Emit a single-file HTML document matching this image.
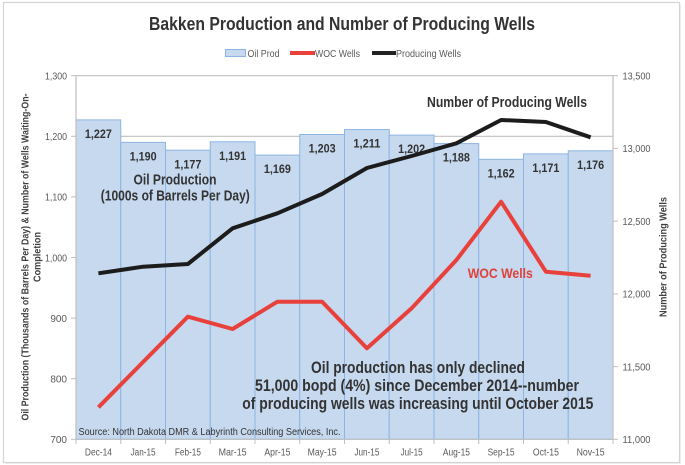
<!DOCTYPE html>
<html>
<head>
<meta charset="utf-8">
<style>
  html, body { margin:0; padding:0; background:#ffffff; }
  svg { display:block; }
  text { font-family: "Liberation Sans", sans-serif; }
</style>
</head>
<body>
<svg width="685" height="465" viewBox="0 0 685 465" xmlns="http://www.w3.org/2000/svg">
  <rect x="0" y="0" width="685" height="465" fill="#ffffff"/>
  <!-- frame -->
  <rect x="3.5" y="2.5" width="676" height="460" fill="#ffffff" stroke="#d4d4d4" stroke-width="1.2"/>
  <line x1="680.5" y1="4" x2="680.5" y2="464" stroke="#ececec" stroke-width="1"/>
  <line x1="5" y1="463.5" x2="681" y2="463.5" stroke="#ececec" stroke-width="1"/>

  <!-- title -->
  <text x="342" y="30" font-size="18" font-weight="bold" fill="#333333" text-anchor="middle" textLength="386" lengthAdjust="spacingAndGlyphs">Bakken Production and Number of Producing Wells</text>

  <!-- legend -->
  <rect x="225.5" y="49.5" width="20" height="7" fill="#c6d9ef" stroke="#8db4e2" stroke-width="1"/>
  <text x="247.5" y="57" font-size="10" fill="#595959" textLength="32" lengthAdjust="spacingAndGlyphs">Oil Prod</text>
  <line x1="290" y1="53" x2="315" y2="53" stroke="#e8413c" stroke-width="4"/>
  <text x="315" y="57" font-size="10" fill="#595959" textLength="45" lengthAdjust="spacingAndGlyphs">WOC Wells</text>
  <line x1="372" y1="53" x2="396" y2="53" stroke="#222222" stroke-width="4"/>
  <text x="396" y="57" font-size="10" fill="#595959" textLength="65" lengthAdjust="spacingAndGlyphs">Producing Wells</text>

  <!-- gridlines -->
  <line x1="76" y1="75.7" x2="613" y2="75.7" stroke="#c0c0c0" stroke-width="1.2"/>
  <line x1="76" y1="136.3" x2="613" y2="136.3" stroke="#c0c0c0" stroke-width="1.2"/>

  <!-- bars -->
  <g fill="#c6d9ef" stroke="#8db4e2" stroke-width="1">
    <rect x="76" y="119.9" width="44.75" height="319.4"/>
    <rect x="120.75" y="142.4" width="44.75" height="296.9"/>
    <rect x="165.5" y="150.2" width="44.75" height="289.1"/>
    <rect x="210.25" y="141.8" width="44.75" height="297.5"/>
    <rect x="255" y="155.1" width="44.75" height="284.2"/>
    <rect x="299.75" y="134.5" width="44.75" height="304.8"/>
    <rect x="344.5" y="129.6" width="44.75" height="309.7"/>
    <rect x="389.25" y="135.1" width="44.75" height="304.2"/>
    <rect x="434" y="143.6" width="44.75" height="295.7"/>
    <rect x="478.75" y="159.3" width="44.75" height="280"/>
    <rect x="523.5" y="153.9" width="44.75" height="285.4"/>
    <rect x="568.25" y="150.8" width="44.75" height="288.5"/>
  </g>

  <!-- bar labels -->
  <g font-size="12" font-weight="bold" fill="#333333" text-anchor="middle">
    <text x="98.4" y="138" textLength="27" lengthAdjust="spacingAndGlyphs">1,227</text>
    <text x="143.1" y="160.5" textLength="27" lengthAdjust="spacingAndGlyphs">1,190</text>
    <text x="187.9" y="168.3" textLength="27" lengthAdjust="spacingAndGlyphs">1,177</text>
    <text x="232.6" y="159.9" textLength="27" lengthAdjust="spacingAndGlyphs">1,191</text>
    <text x="277.4" y="173.2" textLength="27" lengthAdjust="spacingAndGlyphs">1,169</text>
    <text x="322.1" y="152.6" textLength="27" lengthAdjust="spacingAndGlyphs">1,203</text>
    <text x="366.9" y="147.7" textLength="27" lengthAdjust="spacingAndGlyphs">1,211</text>
    <text x="411.6" y="153.2" textLength="27" lengthAdjust="spacingAndGlyphs">1,202</text>
    <text x="456.4" y="161.7" textLength="27" lengthAdjust="spacingAndGlyphs">1,188</text>
    <text x="501.1" y="177.4" textLength="27" lengthAdjust="spacingAndGlyphs">1,162</text>
    <text x="545.9" y="172" textLength="27" lengthAdjust="spacingAndGlyphs">1,171</text>
    <text x="590.6" y="168.9" textLength="27" lengthAdjust="spacingAndGlyphs">1,176</text>
  </g>

  <!-- axes -->
  <line x1="76" y1="75.7" x2="76" y2="439.3" stroke="#bfbfbf" stroke-width="1.2"/>
  <line x1="613" y1="75.7" x2="613" y2="439.3" stroke="#bfbfbf" stroke-width="1.2"/>
  <line x1="76" y1="439.3" x2="613" y2="439.3" stroke="#bfbfbf" stroke-width="1.2"/>
  <g stroke="#bfbfbf" stroke-width="1">
    <line x1="71" y1="75.7" x2="76" y2="75.7"/>
    <line x1="71" y1="136.3" x2="76" y2="136.3"/>
    <line x1="71" y1="196.9" x2="76" y2="196.9"/>
    <line x1="71" y1="257.5" x2="76" y2="257.5"/>
    <line x1="71" y1="318.1" x2="76" y2="318.1"/>
    <line x1="71" y1="378.7" x2="76" y2="378.7"/>
    <line x1="71" y1="439.3" x2="76" y2="439.3"/>
    <line x1="613" y1="75.7" x2="618" y2="75.7"/>
    <line x1="613" y1="148.4" x2="618" y2="148.4"/>
    <line x1="613" y1="221.1" x2="618" y2="221.1"/>
    <line x1="613" y1="293.9" x2="618" y2="293.9"/>
    <line x1="613" y1="366.6" x2="618" y2="366.6"/>
    <line x1="613" y1="439.3" x2="618" y2="439.3"/>
    <line x1="120.75" y1="439.3" x2="120.75" y2="444"/>
    <line x1="165.5" y1="439.3" x2="165.5" y2="444"/>
    <line x1="210.25" y1="439.3" x2="210.25" y2="444"/>
    <line x1="255" y1="439.3" x2="255" y2="444"/>
    <line x1="299.75" y1="439.3" x2="299.75" y2="444"/>
    <line x1="344.5" y1="439.3" x2="344.5" y2="444"/>
    <line x1="389.25" y1="439.3" x2="389.25" y2="444"/>
    <line x1="434" y1="439.3" x2="434" y2="444"/>
    <line x1="478.75" y1="439.3" x2="478.75" y2="444"/>
    <line x1="523.5" y1="439.3" x2="523.5" y2="444"/>
    <line x1="568.25" y1="439.3" x2="568.25" y2="444"/>
    <line x1="76" y1="439.3" x2="76" y2="444"/>
    <line x1="613" y1="439.3" x2="613" y2="444"/>
  </g>

  <!-- left tick labels -->
  <g font-size="10" fill="#595959" text-anchor="end">
    <text x="67" y="79.5" textLength="22" lengthAdjust="spacingAndGlyphs">1,300</text>
    <text x="67" y="140.1" textLength="22" lengthAdjust="spacingAndGlyphs">1,200</text>
    <text x="67" y="200.7" textLength="22" lengthAdjust="spacingAndGlyphs">1,100</text>
    <text x="67" y="261.3" textLength="22" lengthAdjust="spacingAndGlyphs">1,000</text>
    <text x="67" y="321.9">900</text>
    <text x="67" y="382.5">800</text>
    <text x="67" y="443.1">700</text>
  </g>
  <!-- right tick labels -->
  <g font-size="10" fill="#595959" text-anchor="start">
    <text x="622.5" y="79.5" textLength="28" lengthAdjust="spacingAndGlyphs">13,500</text>
    <text x="622.5" y="152.2" textLength="28" lengthAdjust="spacingAndGlyphs">13,000</text>
    <text x="622.5" y="224.9" textLength="28" lengthAdjust="spacingAndGlyphs">12,500</text>
    <text x="622.5" y="297.7" textLength="28" lengthAdjust="spacingAndGlyphs">12,000</text>
    <text x="622.5" y="370.4" textLength="28" lengthAdjust="spacingAndGlyphs">11,500</text>
    <text x="622.5" y="443.1" textLength="28" lengthAdjust="spacingAndGlyphs">11,000</text>
  </g>

  <!-- x labels -->
  <g font-size="10" fill="#595959" text-anchor="middle">
    <text x="98.4" y="455.5" textLength="27" lengthAdjust="spacingAndGlyphs">Dec-14</text>
    <text x="143.1" y="455.5" textLength="25" lengthAdjust="spacingAndGlyphs">Jan-15</text>
    <text x="187.9" y="455.5" textLength="26" lengthAdjust="spacingAndGlyphs">Feb-15</text>
    <text x="232.6" y="455.5" textLength="28" lengthAdjust="spacingAndGlyphs">Mar-15</text>
    <text x="277.4" y="455.5" textLength="26" lengthAdjust="spacingAndGlyphs">Apr-15</text>
    <text x="322.1" y="455.5" textLength="29" lengthAdjust="spacingAndGlyphs">May-15</text>
    <text x="366.9" y="455.5" textLength="25" lengthAdjust="spacingAndGlyphs">Jun-15</text>
    <text x="411.6" y="455.5" textLength="22" lengthAdjust="spacingAndGlyphs">Jul-15</text>
    <text x="456.4" y="455.5" textLength="27" lengthAdjust="spacingAndGlyphs">Aug-15</text>
    <text x="501.1" y="455.5" textLength="27" lengthAdjust="spacingAndGlyphs">Sep-15</text>
    <text x="545.9" y="455.5" textLength="26" lengthAdjust="spacingAndGlyphs">Oct-15</text>
    <text x="590.6" y="455.5" textLength="28" lengthAdjust="spacingAndGlyphs">Nov-15</text>
  </g>

  <!-- producing wells line -->
  <polyline fill="none" stroke="#1c1c1c" stroke-width="4" stroke-linejoin="round" stroke-linecap="butt"
    points="98.4,273.3 143.1,266.7 187.9,264 232.6,228.3 277.4,213.3 322.1,194 366.9,168 411.6,156 456.4,143.3 501.1,120 545.9,122 590.6,137.3"/>
  <!-- WOC wells line -->
  <polyline fill="none" stroke="#e8413c" stroke-width="4" stroke-linejoin="round" stroke-linecap="butt"
    points="98.4,407.3 143.1,362 187.9,316.7 232.6,329 277.4,301.7 322.1,301.7 366.9,348.3 411.6,308.3 456.4,260 501.1,201.7 545.9,271.7 590.6,275.7"/>

  <!-- annotations -->
  <g font-weight="bold" fill="#333333" text-anchor="middle">
    <text x="175" y="184.5" font-size="15" textLength="83" lengthAdjust="spacingAndGlyphs">Oil Production</text>
    <text x="175.3" y="200.5" font-size="15" textLength="149" lengthAdjust="spacingAndGlyphs">(1000s of Barrels Per Day)</text>
    <text x="507" y="107" font-size="15" textLength="160" lengthAdjust="spacingAndGlyphs">Number of Producing Wells</text>
    <text x="418" y="373" font-size="17" textLength="214" lengthAdjust="spacingAndGlyphs">Oil production has only declined</text>
    <text x="417" y="391" font-size="17" textLength="324" lengthAdjust="spacingAndGlyphs">51,000 bopd (4%) since December 2014--number</text>
    <text x="417.8" y="409" font-size="17" textLength="351" lengthAdjust="spacingAndGlyphs">of producing wells was increasing until October 2015</text>
  </g>
  <text x="500.3" y="278" font-size="14" font-weight="bold" fill="#e0413b" text-anchor="middle" textLength="65" lengthAdjust="spacingAndGlyphs">WOC Wells</text>

  <!-- source -->
  <text x="78.5" y="435" font-size="10" fill="#333333" textLength="262" lengthAdjust="spacingAndGlyphs">Source: North Dakota DMR &amp; Labyrinth Consulting Services, Inc.</text>

  <!-- axis titles -->
  <text transform="translate(28.5,257) rotate(-90)" font-size="10" font-weight="bold" fill="#404040" text-anchor="middle" textLength="327" lengthAdjust="spacingAndGlyphs">Oil Production (Thousands of Barrels Per Day) &amp; Number of Wells Waiting-On-</text>
  <text transform="translate(40.5,257) rotate(-90)" font-size="10" font-weight="bold" fill="#404040" text-anchor="middle" textLength="50" lengthAdjust="spacingAndGlyphs">Completion</text>
  <text transform="translate(666.5,257) rotate(-90)" font-size="10" font-weight="bold" fill="#404040" text-anchor="middle" textLength="120" lengthAdjust="spacingAndGlyphs">Number of Producing Wells</text>
</svg>
</body>
</html>
